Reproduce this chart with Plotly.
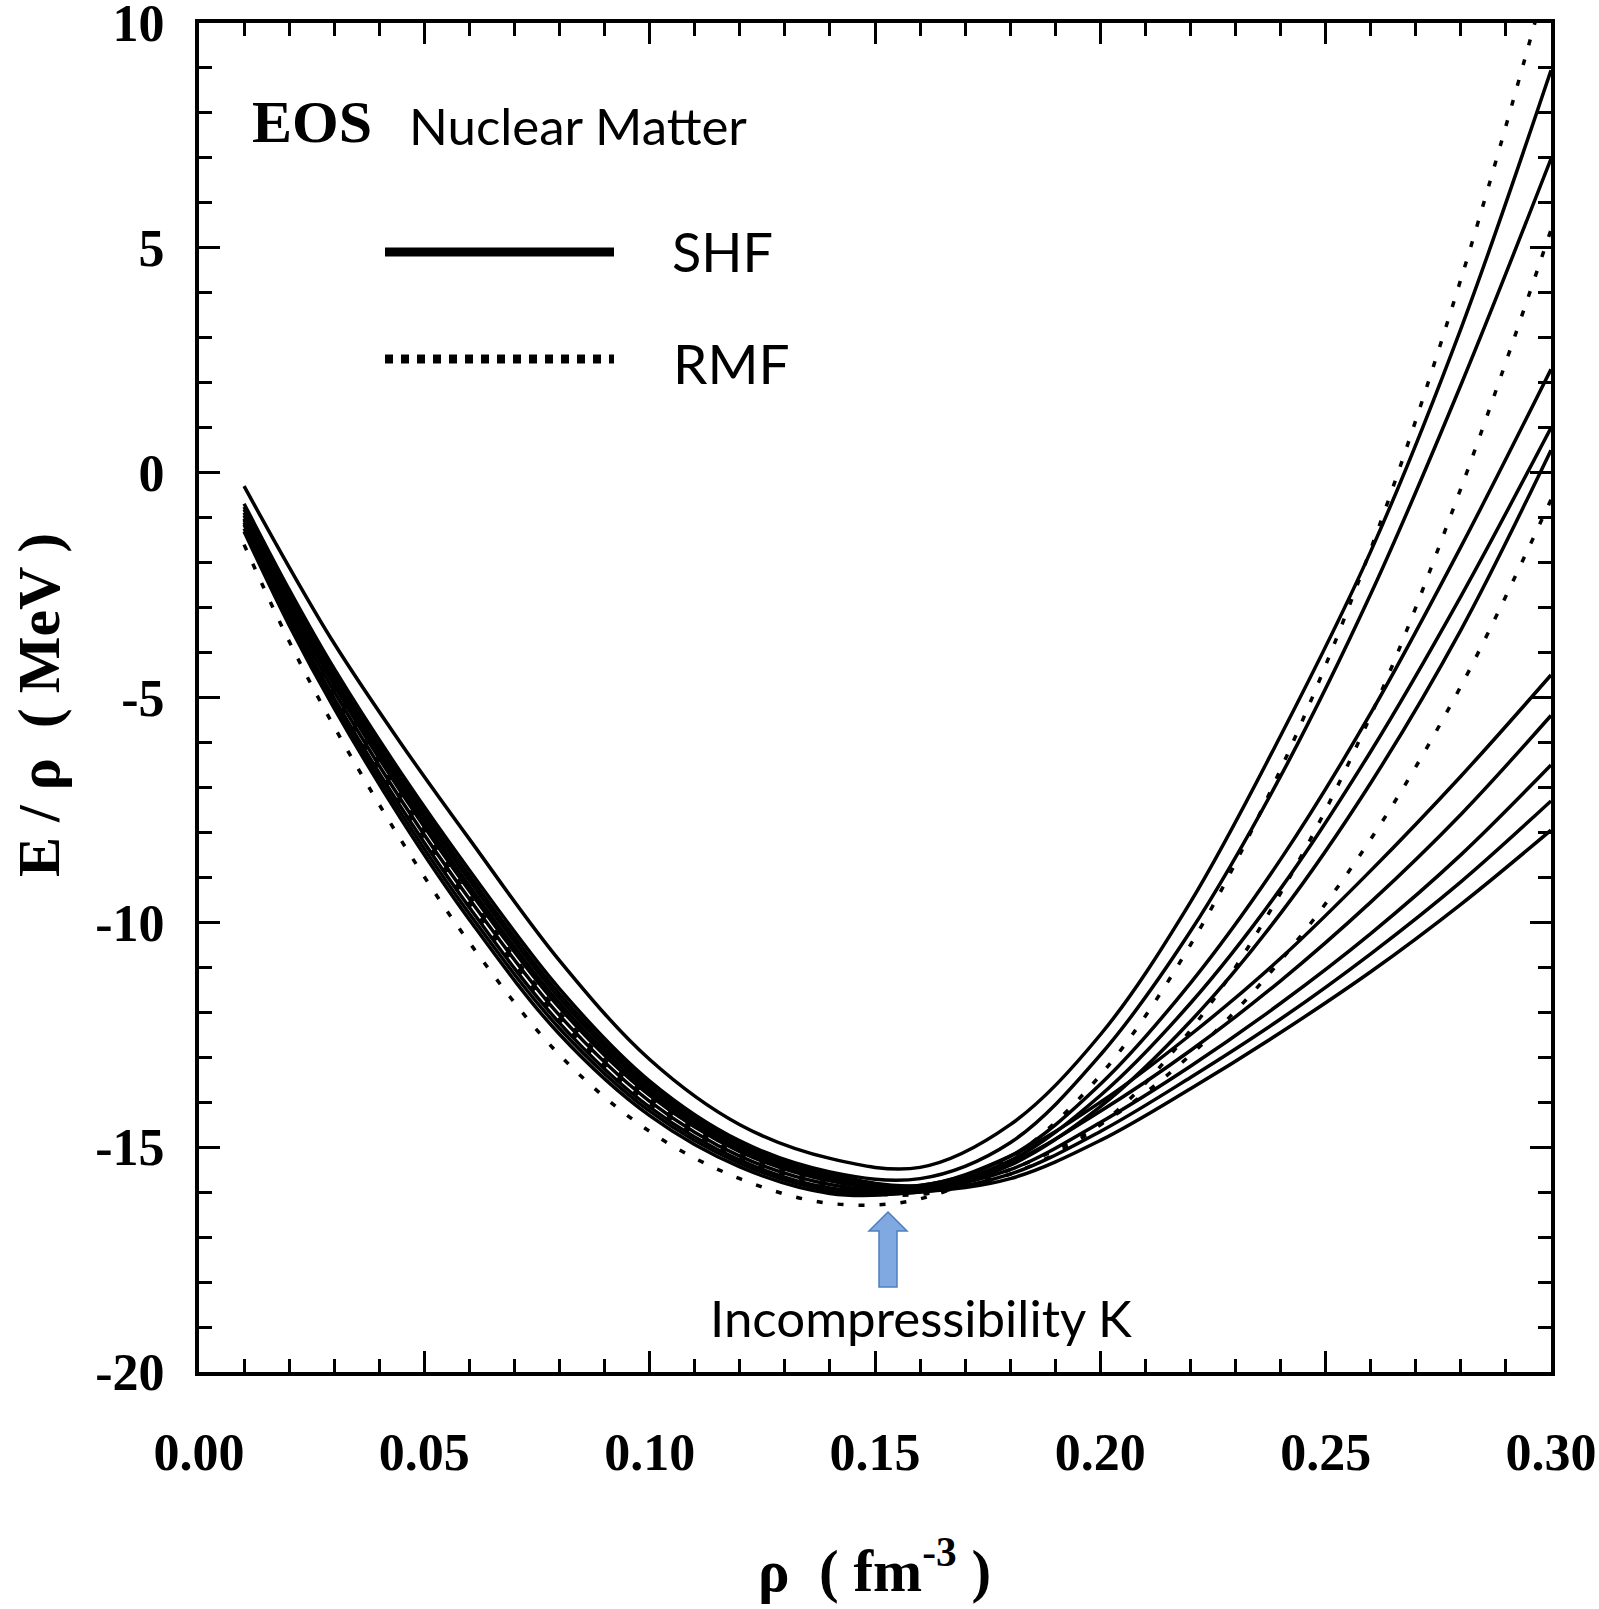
import plotly.graph_objects as go

# ---------------- data ----------------
rho = [0.01, 0.02, 0.03, 0.045, 0.06, 0.08, 0.10, 0.12, 0.14, 0.16,
       0.18, 0.20, 0.22, 0.24, 0.26, 0.28, 0.30]

shf_1 = [-0.3, -2.1, -3.8, -6.05, -8.15, -10.85, -13.05, -14.5, -15.25, -15.45, -14.5, -12.5, -9.55, -5.85, -1.75, 3.2, 8.95]
shf_2 = [-0.69, -2.6, -4.36, -6.7, -8.84, -11.48, -13.53, -14.86, -15.55, -15.7, -14.9, -12.95, -10.2, -6.75, -2.7, 1.95, 6.98]
shf_3 = [-0.82, -2.76, -4.54, -6.91, -9.07, -11.69, -13.69, -14.98, -15.65, -15.85, -15.2, -13.6, -11.35, -8.6, -5.35, -1.65, 2.3]
shf_4 = [-0.89, -2.84, -4.63, -7.02, -9.19, -11.8, -13.77, -15.04, -15.7, -15.9, -15.3, -13.85, -11.8, -9.25, -6.2, -2.75, 1.0]
shf_5 = [-0.95, -2.93, -4.73, -7.13, -9.3, -11.9, -13.85, -15.1, -15.75, -15.95, -15.4, -14.1, -12.2, -9.8, -6.9, -3.5, 0.5]
shf_6 = [-0.76, -2.68, -4.45, -6.8, -8.96, -11.59, -13.61, -14.92, -15.6, -15.85, -15.2, -14.0, -12.5, -10.8, -8.85, -6.75, -4.5]
shf_7 = [-1.05, -3.06, -4.87, -7.3, -9.48, -12.07, -13.98, -15.2, -15.83, -15.95, -15.35, -14.2, -12.85, -11.3, -9.55, -7.6, -5.4]
shf_8 = [-1.16, -3.19, -5.02, -7.47, -9.67, -12.24, -14.11, -15.29, -15.91, -15.95, -15.5, -14.45, -13.2, -11.8, -10.25, -8.5, -6.5]
shf_9 = [-1.24, -3.29, -5.13, -7.6, -9.81, -12.36, -14.2, -15.36, -15.97, -16.0, -15.6, -14.65, -13.45, -12.15, -10.7, -9.1, -7.3]
shf_10 = [-1.31, -3.39, -5.24, -7.73, -9.94, -12.49, -14.3, -15.44, -16.03, -16.0, -15.7, -14.85, -13.7, -12.45, -11.1, -9.6, -7.95]

rmf_1 = [-1.6, -3.75, -5.65, -8.2, -10.45, -12.95, -14.65, -15.7, -16.25, -16.15, -15.25, -13.4, -10.5, -6.6, -1.7, 4.3, 11.3]
rmf_2 = [-1.02, -3.01, -4.82, -7.23, -9.42, -12.01, -13.93, -15.16, -15.8, -16.0, -15.6, -14.5, -12.4, -9.35, -5.4, -0.35, 5.4]
rmf_3 = [-1.11, -3.12, -4.95, -7.38, -9.58, -12.15, -14.04, -15.24, -15.87, -16.05, -15.5, -14.5, -12.95, -10.85, -8.15, -4.75, -0.6]

shf_curves = [shf_1, shf_2, shf_3, shf_4, shf_5, shf_6, shf_7, shf_8, shf_9, shf_10]
rmf_curves = [rmf_1, rmf_2, rmf_3]

x_tickvals = [0.0, 0.05, 0.10, 0.15, 0.20, 0.25, 0.30]
x_ticktext = ["0.00", "0.05", "0.10", "0.15", "0.20", "0.25", "0.30"]
y_tickvals = [-20, -15, -10, -5, 0, 5, 10]
y_ticktext = ["-20", "-15", "-10", "-5", "0", "5", "10"]

# ---------------- figure ----------------
W, H = 1599, 1609
L, R, T, B = 199, 48, 23, 237
PW, PH = W - L - R, H - T - B


def px(xp):
    return (xp - L) / PW


def py(yp):
    return (H - B - yp) / PH


fig = go.Figure()
for c in shf_curves:
    fig.add_trace(go.Scatter(x=rho, y=c, mode="lines", line_shape="spline",
                             line=dict(color="black", width=3.5), showlegend=False,
                             hoverinfo="skip"))
for c in rmf_curves:
    fig.add_trace(go.Scatter(x=rho, y=c, mode="lines", line_shape="spline",
                             line=dict(color="black", width=3.5, dash="6px,15px"),
                             showlegend=False, hoverinfo="skip"))

serif = "Liberation Serif"
sans = "Lato"

axis_common = dict(showline=True, linecolor="black", linewidth=4, mirror="allticks",
                   ticks="inside", ticklen=21, tickwidth=3, tickcolor="black",
                   showgrid=False, zeroline=False, ticklabeloverflow="allow",
                   tickfont=dict(family=serif, size=52, color="black", weight="bold"))

fig.update_xaxes(range=[0, 0.30], tickmode="array", tickvals=x_tickvals,
                 ticktext=x_ticktext, ticklabelstandoff=32,
                 minor=dict(tickmode="linear", tick0=0, dtick=0.01, ticks="inside",
                            ticklen=13, tickwidth=3, tickcolor="black"),
                 **axis_common)
fig.update_yaxes(range=[-20, 10], tickmode="array", tickvals=y_tickvals,
                 ticktext=y_ticktext, ticklabelstandoff=20,
                 minor=dict(tickmode="linear", tick0=0, dtick=1, ticks="inside",
                            ticklen=13, tickwidth=3, tickcolor="black"),
                 **axis_common)

ann = []
ann.append(dict(text="<b>EOS</b>", x=px(250), y=py(122), xref="paper", yref="paper",
                xanchor="left", yanchor="middle", showarrow=False,
                font=dict(family=serif, size=60, color="black")))
ann.append(dict(text="Nuclear Matter", x=px(407), y=py(126), xref="paper", yref="paper",
                xanchor="left", yanchor="middle", showarrow=False,
                font=dict(family=sans, size=51, color="black")))
ann.append(dict(text="SHF", x=px(670), y=py(251), xref="paper", yref="paper",
                xanchor="left", yanchor="middle", showarrow=False,
                font=dict(family=sans, size=54, color="black")))
ann.append(dict(text="RMF", x=px(671), y=py(363), xref="paper", yref="paper",
                xanchor="left", yanchor="middle", showarrow=False,
                font=dict(family=sans, size=55, color="black")))
ann.append(dict(text="Incompressibility K", x=px(708), y=py(1317), xref="paper", yref="paper",
                xanchor="left", yanchor="middle", showarrow=False,
                font=dict(family=sans, size=51, color="black")))
ann.append(dict(text="<b>E / ρ  ( MeV )</b>", x=px(39), y=py(705), xref="paper", yref="paper",
                xanchor="center", yanchor="middle", showarrow=False, textangle=-90,
                font=dict(family=serif, size=60, color="black")))
ann.append(dict(text="<b>ρ  ( fm<sup>-3</sup> )</b>", x=px(874), y=py(1566), xref="paper", yref="paper",
                xanchor="center", yanchor="middle", showarrow=False,
                font=dict(family=serif, size=59, color="black")))

shapes = []
shapes.append(dict(type="line", xref="paper", yref="paper", x0=px(385), x1=px(614),
                   y0=py(252), y1=py(252), line=dict(color="black", width=9)))
shapes.append(dict(type="line", xref="paper", yref="paper", x0=px(385), x1=px(614),
                   y0=py(359), y1=py(359), line=dict(color="black", width=9, dash="8px,8px")))

# blue block arrow (pixel geometry -> paper coords)
ax_c, tip, hb, bot, hw, sw = 888, 1212, 1231, 1287, 19, 9
pts = [(ax_c, tip), (ax_c + hw, hb), (ax_c + sw, hb), (ax_c + sw, bot),
       (ax_c - sw, bot), (ax_c - sw, hb), (ax_c - hw, hb)]
path = "M " + " L ".join(f"{px(a):.5f},{py(b):.5f}" for a, b in pts) + " Z"
shapes.append(dict(type="path", xref="paper", yref="paper", path=path,
                   fillcolor="#7fa9e0", line=dict(color="#4f7fc0", width=1.5)))

fig.update_layout(width=W, height=H, margin=dict(l=L, r=R, t=T, b=B, autoexpand=False),
                  paper_bgcolor="white", plot_bgcolor="white",
                  annotations=ann, shapes=shapes, showlegend=False)

fig.write_html("out.html")
